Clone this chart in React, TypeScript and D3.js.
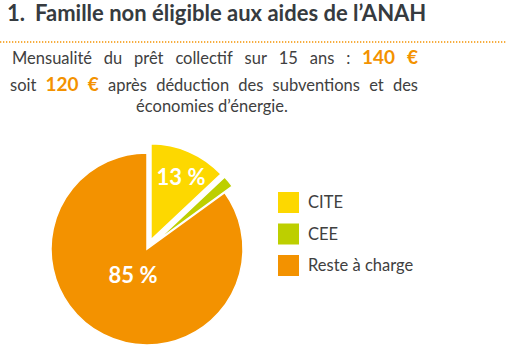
import React, { useEffect, useRef } from 'react';
import * as d3 from 'd3';

const categories = ['CITE', 'CEE', 'Reste à charge'];
const shares = [13, 2, 85];
const colors = ['#FDD800', '#BDCF00', '#F39200'];
const exploded = [true, true, false];
const sliceLabels = ['13 %', '', '85 %'];

const titleNumber = '1.';
const titleText = 'Famille non éligible aux aides de l’ANAH';
// words of the justified paragraph; "hi" marks the highlighted amounts
const line1 = [
  { t: 'Mensualité' }, { t: 'du' }, { t: 'prêt' }, { t: 'collectif' }, { t: 'sur' },
  { t: '15' }, { t: 'ans' }, { t: ':' }, { t: '140', hi: true }, { t: '€', hi: true },
];
const line2 = [
  { t: 'soit' }, { t: '120', hi: true }, { t: '€', hi: true }, { t: 'après' }, { t: 'déduction' },
  { t: 'des' }, { t: 'subventions' }, { t: 'et' }, { t: 'des' },
];
const line3 = 'économies d’énergie.';

const FONT = 'Lato, "Open Sans", sans-serif';
const ORANGE = '#F39200';
const GREY = '#404040';

const App = () => {
  const ref = useRef<SVGSVGElement>(null);

  useEffect(() => {
    const svg = d3.select(ref.current);
    svg.selectAll('*').remove();

    // title
    svg.append('text').attr('x', 7).attr('y', 21)
      .attr('font-family', FONT).attr('font-weight', 700).attr('font-size', 22)
      .attr('fill', '#363B40').text(titleNumber);
    svg.append('text').attr('x', 35).attr('y', 21)
      .attr('font-family', FONT).attr('font-weight', 700).attr('font-size', 22)
      .attr('fill', '#363B40').text(titleText);

    svg.append('line')
      .attr('x1', 0).attr('x2', 506).attr('y1', 42).attr('y2', 42)
      .attr('stroke', ORANGE).attr('stroke-width', 1.3)
      .attr('stroke-dasharray', '1.3,1.7');

    // justified paragraph lines
    const justify = (words: { t: string; hi?: boolean }[], x0: number, x1: number, y: number) => {
      const nodes = words.map(w =>
        svg.append('text').attr('y', y)
          .attr('font-family', FONT)
          .attr('font-size', w.hi ? 19 : 16.5)
          .attr('font-weight', w.hi ? 700 : 400)
          .attr('fill', w.hi ? ORANGE : GREY)
          .text(w.t));
      const widths = nodes.map(n => (n.node() as SVGTextElement).getComputedTextLength());
      const gap = (x1 - x0 - d3.sum(widths)) / (words.length - 1);
      let x = x0;
      nodes.forEach((n, i) => {
        n.attr('x', x);
        x += widths[i] + gap;
      });
    };
    justify(line1, 12, 418, 64);
    justify(line2, 10, 418, 91);
    svg.append('text').attr('x', 212).attr('y', 112).attr('text-anchor', 'middle')
      .attr('font-family', FONT).attr('font-size', 16.5).attr('fill', GREY).text(line3);

    // pie
    const cx = 147, cy = 249, r = 96, offset = 10;
    const pie = d3.pie<number>().sort(null).value(d => d);
    const arc = d3.arc<d3.PieArcDatum<number>>().innerRadius(0).outerRadius(r);
    const arcs = pie(shares);
    const g = svg.append('g').attr('transform', `translate(${cx},${cy})`);

    const shift = (d: d3.PieArcDatum<number>, i: number) => {
      if (!exploded[i]) return [0, 0];
      const a = (d.startAngle + d.endAngle) / 2;
      return [Math.sin(a) * offset, -Math.cos(a) * offset];
    };

    g.selectAll('path.slice')
      .data(arcs)
      .join('path')
      .attr('class', 'slice')
      .attr('transform', (d, i) => `translate(${shift(d, i)})`)
      .attr('d', arc)
      .attr('fill', (d, i) => colors[i])
      .attr('stroke', '#fff')
      .attr('stroke-width', 1.5)
      .attr('stroke-linejoin', 'miter');

    const labelPos = [[34, -64], null, [-14, 34]];
    g.selectAll('text.lbl')
      .data(arcs)
      .join('text')
      .attr('class', 'lbl')
      .attr('x', (d, i) => (labelPos[i] ? labelPos[i]![0] : 0))
      .attr('y', (d, i) => (labelPos[i] ? labelPos[i]![1] : 0))
      .attr('text-anchor', 'middle')
      .attr('font-family', FONT).attr('font-weight', 700).attr('font-size', 22)
      .attr('fill', '#fff')
      .text((d, i) => sliceLabels[i]);

    // legend
    const legend = svg.append('g').attr('transform', 'translate(278,192)');
    const item = legend.selectAll('g')
      .data(categories)
      .join('g')
      .attr('transform', (d, i) => `translate(0,${i * 31.5})`);
    item.append('rect').attr('width', 21).attr('height', 21).attr('fill', (d, i) => colors[i]);
    item.append('text').attr('x', 30).attr('y', 16)
      .attr('font-family', FONT).attr('font-size', 16.5).attr('fill', GREY)
      .text(d => d);
  }, []);

  return (
    <svg ref={ref} width={508} height={354}
      style={{ position: 'absolute', left: 0, top: 0, background: '#fff' }} />
  );
};

export default App;
